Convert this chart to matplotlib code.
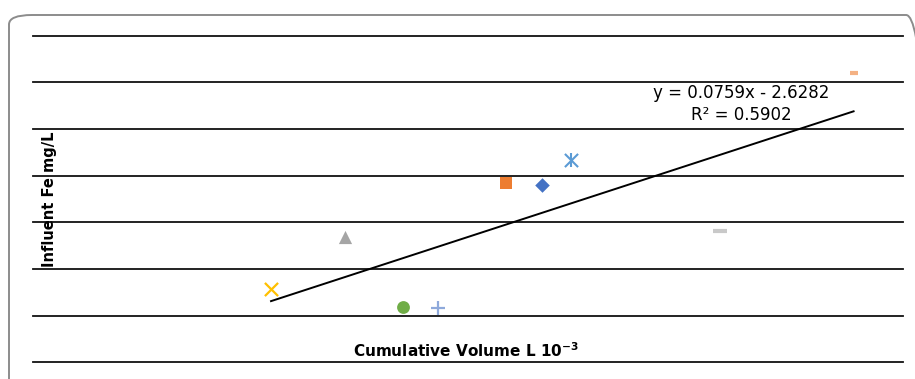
import numpy as np
import matplotlib.pyplot as plt
from matplotlib.patches import FancyBboxPatch

# one point per series, as in the original Excel sheet
vol = [76.8, 73.5, 58.75, 51.9, 79.5, 64.0, 67.26, 93.2, 105.5]
fe = [3.81, 3.85, 2.68, 1.57, 4.33, 1.19, 1.16, 2.82, 6.21]
markers = ["D", "s", "^", "x", "x", "o", "+", "_", "_"]
colors = ["#4472C4", "#ED7D31", "#A5A5A5", "#FFC000", "#5B9BD5",
          "#70AD47", "#8EA9DB", "#C9C9C9", "#F4B183"]
sizes = [55, 75, 90, 90, 90, 85, 110, 110, 40]

slope = 0.0759
intercept = -2.6282
r2 = 0.5902

W, H = 915, 379
fig = plt.figure(figsize=(W / 100, H / 100), dpi=100)

# rounded chart-area border
border = FancyBboxPatch((9 / W, (H - 392) / H), 920 / W, 377 / H,
                        boxstyle="round,pad=0,rounding_size=0.025",
                        transform=fig.transFigure, fill=False,
                        edgecolor="#8c8c8c", linewidth=1.4, clip_on=True)
fig.patches.append(border)

ax = fig.add_axes([33 / W, 1 - 362.3 / H, (902.5 - 33) / W, (362.3 - 35.7) / H])
ax.set_xlim(30, 110)
ax.set_ylim(0, 7)
for s in ax.spines.values():
    s.set_visible(False)
ax.set_xticks([])
ax.set_yticks([])
for g in range(8):
    ax.axhline(g, color="#111111", lw=1.3, zorder=1, clip_on=False)

for x, y, m, c, s in zip(vol, fe, markers, colors, sizes):
    lw = 1.6 if m in ("x", "+") else (3 if m == "_" else 0)
    if m == "x" and c == "#5B9BD5":
        ax.scatter([x], [y], marker="x", s=s, color=c, linewidths=1.5, zorder=3)
        ax.scatter([x], [y], marker="|", s=s * 1.1, color=c, linewidths=1.5, zorder=3)
    else:
        ax.scatter([x], [y], marker=m, s=s, color=c, linewidths=lw, zorder=3)

xt = np.array([min(vol), max(vol)])
ax.plot(xt, slope * xt + intercept, color="black", lw=1.4, zorder=2)

fig.text(741 / W, 1 - 92.5 / H, "y = %.4fx - %.4f" % (slope, -intercept),
         ha="center", va="center", fontsize=12, family="DejaVu Sans")
fig.text(741 / W, 1 - 115.5 / H, "R² = %.4f" % r2,
         ha="center", va="center", fontsize=12, family="DejaVu Sans")

fig.text(50 / W, 1 - 199 / H, "Influent Fe mg/L", rotation=90, ha="center",
         va="center", fontsize=10.5, fontweight="bold")
fig.text(466 / W, 1 - 351 / H, "Cumulative Volume L 10$^{\\mathbf{-3}}$", ha="center",
         va="center", fontsize=11, fontweight="bold")

fig.savefig("out.png", dpi=100)
